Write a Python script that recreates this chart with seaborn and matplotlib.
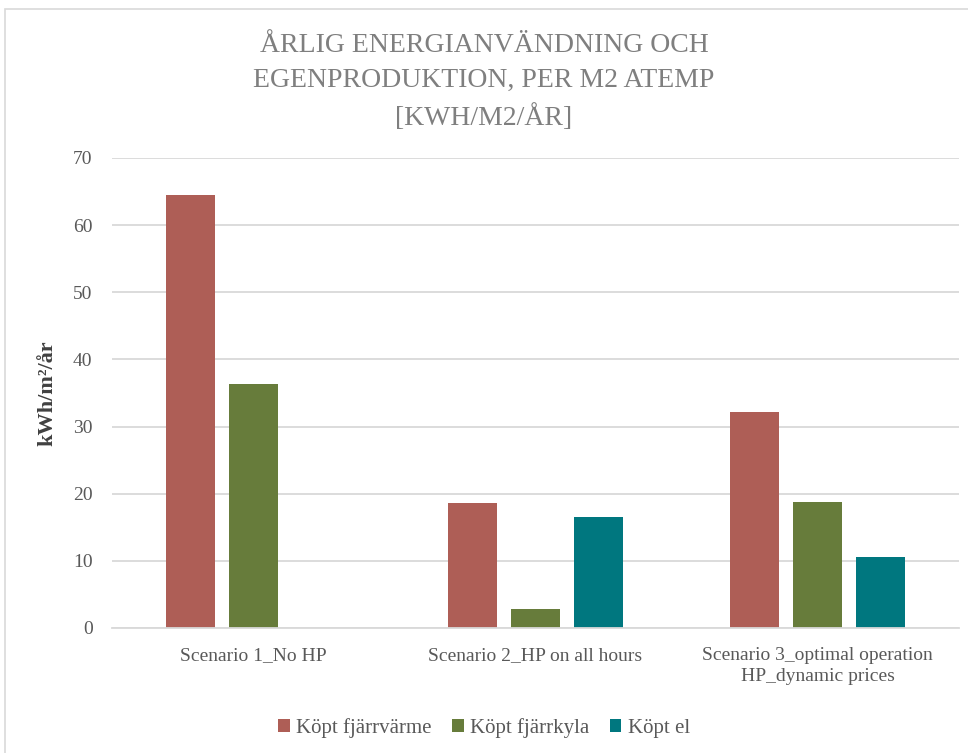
import matplotlib
matplotlib.use("Agg")
import matplotlib.pyplot as plt
from matplotlib.patches import Rectangle
import seaborn as sns
import pandas as pd

# Data
scenarios = ["Scenario 1_No HP", "Scenario 2_HP on all hours",
             "Scenario 3_optimal operation HP_dynamic prices"]
tick_labels = ["Scenario 1_No HP", "Scenario 2_HP on all hours",
               "Scenario 3_optimal operation\nHP_dynamic prices"]
series = ["Köpt fjärrvärme", "Köpt fjärrkyla", "Köpt el"]
fjarrvarme = [64.5, 18.6, 32.1]
fjarrkyla = [36.4, 2.8, 18.7]
el = [0.0, 16.6, 10.6]
colors = ["#AE5E56", "#677C3B", "#00777F"]

df = pd.DataFrame({
    "scenario": scenarios * 3,
    "serie": [s for s in series for _ in scenarios],
    "value": fjarrvarme + fjarrkyla + el,
})

sns.set_theme(style="white")
plt.rcParams["font.family"] = ["Liberation Serif", "DejaVu Serif"]

fig = plt.figure(figsize=(9.68, 7.53), dpi=100)
ax = fig.add_axes([112 / 968, 1 - 628 / 753, 847 / 968, 470 / 753])

sns.barplot(data=df, x="scenario", y="value", hue="serie", order=scenarios,
            hue_order=series, palette=colors, width=0.67, gap=0.22,
            linewidth=0, saturation=1, ax=ax)

ax.set_ylim(0, 70)
ax.set_yticks(range(0, 71, 10))
ax.yaxis.grid(True, color="#D9D9D9", linewidth=1.3)
ax.set_axisbelow(True)
for side in ["top", "right", "left"]:
    ax.spines[side].set_visible(False)
ax.spines["bottom"].set_color("#D9D9D9")
ax.spines["bottom"].set_linewidth(1.3)
ax.tick_params(axis="y", length=0, pad=14, labelsize=14, labelcolor="#595959")
ax.tick_params(axis="x", length=0, pad=14, labelsize=14, labelcolor="#595959")
ax.set_xticks(range(len(scenarios)))
ax.set_xticklabels(tick_labels, linespacing=1.25)
ax.set_xlabel("")
ax.set_ylabel("kWh/m²/år", fontsize=16, fontweight="bold", color="#404040")
ax.yaxis.set_label_coords(-55 / 847, 0.5)

ax.legend_.remove()
handles, labels = ax.get_legend_handles_labels()
fig.legend(handles, labels, loc="center", bbox_to_anchor=(0.5, 1 - 728 / 753),
           ncol=3, frameon=False, fontsize=15, handlelength=0.55,
           handleheight=0.55, handletextpad=0.3, columnspacing=1.0,
           labelcolor="#595959")

fig.text(0.5, 1 - 82 / 753,
         "ÅRLIG ENERGIANVÄNDNING OCH\nEGENPRODUKTION, PER M2 ATEMP\n[KWH/M2/ÅR]",
         ha="center", va="center", fontsize=20, color="#7F7F7F",
         linespacing=1.55)

fig.patches.append(Rectangle((5 / 968, -0.05), 1.0, 0.988 + 0.05,
                             transform=fig.transFigure, fill=False,
                             edgecolor="#D9D9D9", linewidth=1.2))

fig.savefig("out.png", dpi=100)
